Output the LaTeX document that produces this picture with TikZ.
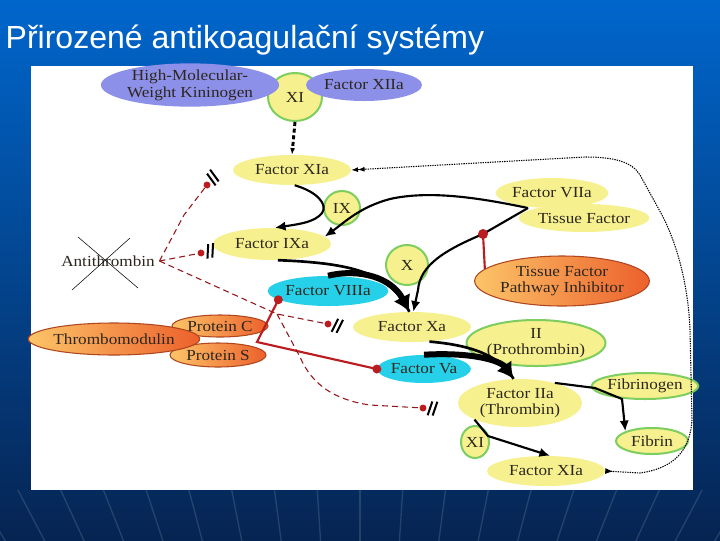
\documentclass[tikz,border=0pt]{standalone}
\usepackage{fontspec}
\setmainfont{Liberation Serif}[FakeStretch=1.12]
\newfontfamily\titlefont{Liberation Sans}
\usetikzlibrary{arrows.meta,positioning,shapes.geometric}
\definecolor{bgtop}{RGB}{0,102,204}
\definecolor{bgmid}{RGB}{0,74,158}
\definecolor{bgbot}{RGB}{6,36,82}
\definecolor{ylw}{RGB}{246,241,142}
\definecolor{grn}{RGB}{125,205,95}
\definecolor{vio}{RGB}{140,144,232}
\definecolor{cyn}{RGB}{38,208,232}
\definecolor{orgA}{RGB}{252,196,104}
\definecolor{orgB}{RGB}{236,96,44}
\definecolor{orgD}{RGB}{176,70,30}
\definecolor{inhred}{RGB}{186,28,32}
\definecolor{txt}{RGB}{45,38,30}

\begin{document}
\begin{tikzpicture}[x=0.75pt,y=-0.75pt,>=Latex,
  every node/.style={font=\fontsize{11.5}{12.5}\selectfont,text=txt},
  sz/.style 2 args={minimum width=#1*0.75pt,minimum height=#2*0.75pt},
  fac/.style={ellipse,inner sep=0pt,align=center},
  plainfac/.style={fac,fill=ylw},
  ringfac/.style={fac,fill=ylw,draw=grn,line width=1.5pt},
  kinfac/.style={fac,fill=vio},
  cofac/.style={fac,fill=cyn},
  inhfac/.style={fac,left color=orgA,right color=orgB,draw=orgD,line width=0.8pt},
  act/.style={line width=1.6pt,-{Latex[length=8pt,width=7pt]}},
  sinh/.style={draw=inhred,line width=1.6pt},
  dinh/.style={draw=inhred!80!black,line width=0.8pt,dash pattern=on 4.5pt off 3pt},
  blockmark/.pic={\fill[inhred] (0,0) circle (3.5);
    \draw[black,line width=1.5pt] (5,7) -- (9,-7) (10,7) -- (14,-7);}]

\shade[top color=bgtop,middle color=bgmid,bottom color=bgbot] (0,0) rectangle (720,540);
\begin{scope}
  \clip (0,490) rectangle (720,540);
  \foreach \k in {-12,...,12}
    \draw[white,opacity=0.13,line width=1pt] (360,1140) -- (360+\k*75,0);
\end{scope}
\fill[white] (31,66) rectangle (693,490);
\node[font=\titlefont\fontsize{24}{28}\selectfont,text=white,anchor=base west] (title) at (1,48) {Přirozené antikoagulační systémy};

% factors
\node[ringfac,sz={54}{48}] (xi) at (295,97) {\raisebox{-3pt}{XI}};
\node[kinfac,sz={165}{38}] (hmwk) at (190,85) {High-Molecular-\\Weight Kininogen};
\node[kinfac,sz={116}{32}] (xiia) at (364,85) {Factor XIIa};
\foreach \nm/\px/\py/\w/\h/\lbl in {xia/292/170/118/30/Factor XIa,ixa/272/244/118/32/Factor IXa,
    viia/552/193/92/30/Factor VIIa,tf/584/218/112/28/Tissue Factor,xa/412/327/118/30/Factor Xa,
    xib/546/471/118/30/Factor XIa}
  \node[plainfac,sz={\w}{\h}] (\nm) at (\px,\py) {\lbl};
\node[plainfac,sz={124}{48}] (iia) at (520,403) {Factor IIa\\(Thrombin)};
\node[ringfac,sz={36}{34}] (ix) at (342,208) {IX};
\node[ringfac,sz={42}{40}] (fx) at (407,265) {X};
\node[ringfac,sz={110}{46}] (ii) at (536,343) {II\\(Prothrombin)};
\node[ringfac,sz={92}{26}] (fbg) at (645,386) {Fibrinogen};
\node[ringfac,sz={72}{26}] (fbn) at (652,441) {Fibrin};
\node[ringfac,sz={28}{32}] (xil) at (475,442) {XI};
\node[cofac,sz={110}{30}] (viiia) at (328,291) {Factor VIIIa};
\node[cofac,sz={82}{28}] (va) at (424,369) {Factor Va};
\node[inhfac,sz={155}{50}] (tfpi) at (562,281) {Tissue Factor\\Pathway Inhibitor};
\node[inhfac,sz={96}{22}] (pc) at (220,326) {Protein C};
\node[inhfac,sz={96}{24}] (ps) at (218,355) {Protein S};
\node[inhfac,sz={168}{32}] (tm) at (114,339) {Thrombomodulin};
\node (at) at (108,261) {Antithrombin};
\draw[thin] ([shift={(-30,-24)}]at.center) -- ([shift={(30,27)}]at.center)
  ([shift={(22,-23)}]at.center) -- ([shift={(-36,29)}]at.center);

\coordinate (tfj) at (528,208);
\coordinate (tfd) at (483,234);
\coordinate (pcj) at (257,342);
\coordinate (atk) at (277,314);
\coordinate (bxia) at (207,185);
\coordinate (bixa) at (201,253);
\coordinate (bxa) at (328,324);
\coordinate (biia) at (423,408);

% activation
\draw[line width=2.2pt,dash pattern=on 3pt off 2pt,-{Latex[length=5pt]}] (xi.south) -- (xia.north);
\draw[line width=0.8pt,dash pattern=on 1pt off 0.8pt,{Latex[reversed,length=6pt]}-{Latex[length=5pt]Latex[length=5pt]}]
  (xib.east) -- (640,473) .. controls (675,468) and (690,450) .. (692,420) -- (690,330)
  .. controls (688,280) and (675,240) .. (662,215) -- (640,175)
  .. controls (632,162) and (615,157) .. (585,157) -- (xia.east);
\draw[act] (xia.-80) .. controls (318,192) and (328,205) .. (322,213)
  .. controls (315,222) and (300,224) .. (ixa.80);
\draw[act] (tfj) .. controls (480,198) and (430,190) .. (390,199)
  .. controls (360,207) and (345,222) .. (ixa.8);
\draw[act] (tfj) -- (tfd) .. controls (445,250) and (420,265) .. (418,290) -- (xa.85);
\draw[line width=2pt] (ixa.-70) .. controls (350,263) and (390,272) .. (xa.100);
\draw[line width=4.5pt,-{Latex[length=12pt,width=14pt]}] (viiia.north) .. controls (360,268) and (392,278) .. (xa.100);
\draw[line width=2pt] (xa.-40) .. controls (470,345) and (500,355) .. (iia.105);
\draw[line width=4.5pt,-{Latex[length=12pt,width=14pt]}] (va.north) .. controls (470,352) and (500,360) .. (iia.105);
\draw[act] (iia.30) -- (595,388) -- (622,399) -- (fbn.160);
\draw[act] (iia.-160) -- (488,436) -- (xib.75);

% inhibition
\draw[sinh] (tfpi.171) -- (tfd);
\fill[inhred] (tfd) circle (5);
\draw[sinh] (viiia.190) -- (pcj) -- (va.west);
\fill[inhred] (viiia.190) circle (4.5) (va.west) circle (4.5);
\draw[dinh] (at.east) -- (184,215) -- (bxia);
\draw[dinh] (at.east) -- (bixa);
\draw[dinh] (at.east) -- (atk) -- (bxa);
\draw[dinh] (atk) -- (300,357) .. controls (312,385) and (335,400) .. (370,405) -- (biia);
\pic[rotate=52] at (bxia) {blockmark};
\pic[rotate=13] at (bixa) {blockmark};
\pic[rotate=-11] at (bxa) {blockmark};
\pic[rotate=-3] at (biia) {blockmark};
\end{tikzpicture}
\end{document}
